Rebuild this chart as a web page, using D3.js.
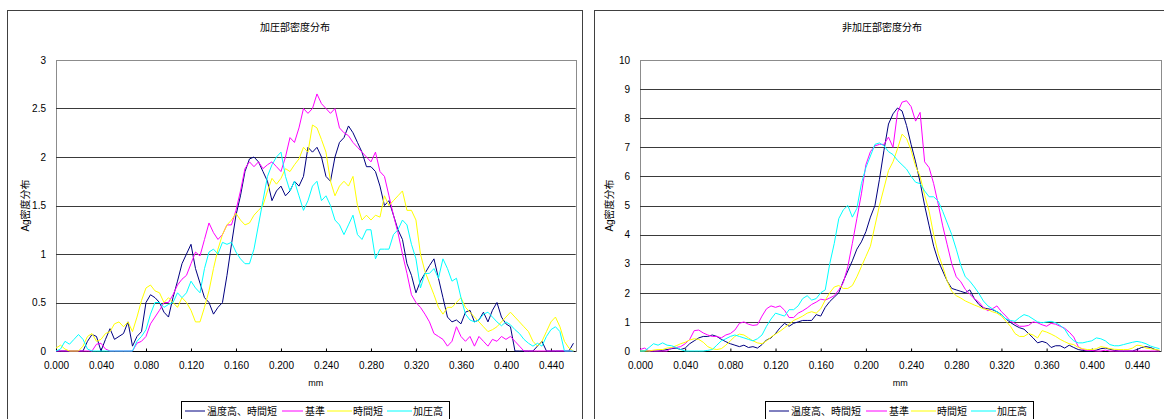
<!DOCTYPE html>
<html>
<head>
<meta charset="utf-8">
<script src="https://cdn.jsdelivr.net/npm/d3@7"></script>
<style>
body { margin: 0; background: #fff; }
svg { display: block; }
text { font-family: "Liberation Sans", "Noto Sans CJK JP", sans-serif; fill: #000; }
</style>
</head>
<body>
<svg></svg>
<script>
var width = 1164, height = 419;

var seriesNames = ["温度高、時間短", "基準", "時間短", "加圧高"];
var colors = ["#000080", "#ff00ff", "#ffff00", "#00ffff"];
var xTicks = [0, 0.04, 0.08, 0.12, 0.16, 0.2, 0.24, 0.28, 0.32, 0.36, 0.4, 0.44];
// sample positions (mm), one reading every 0.004 mm
var mm = d3.range(116).map(function(i) { return i * 0.004; });

// 加圧部
var pressNavy = [
  0,0,0,0,0,0,0,0.1,0.17,0.15,
  0,0.12,0.23,0.12,0.15,0.18,0.3,0.05,0.15,0.2,
  0.5,0.58,0.55,0.5,0.4,0.35,0.55,0.72,0.9,1.0,
  1.1,0.85,0.7,0.55,0.5,0.38,0.45,0.5,0.78,1.1,
  1.4,1.6,1.85,1.98,2.0,1.95,1.85,1.75,1.55,1.65,
  1.7,1.6,1.65,1.75,1.7,1.8,2.1,2.05,2.1,2.0,
  1.8,1.75,2.0,2.15,2.2,2.32,2.25,2.15,2.05,1.9,
  1.9,1.85,1.7,1.5,1.55,1.4,1.25,1.15,0.9,0.78,
  0.6,0.72,0.8,0.88,0.95,0.75,0.55,0.35,0.3,0.32,
  0.28,0.4,0.42,0.3,0.32,0.4,0.3,0.42,0.5,0.35,
  0.28,0.25,0,0,0,0,0,0.05,0.1,0,
  0,0,0,0,0,0.08
];
var pressPink = [
  0,0,0,0,0,0,0,0,0,0.07,
  0.08,0.02,0,0,0,0,0,0,0.08,0.1,
  0.15,0.28,0.35,0.42,0.5,0.5,0.58,0.68,0.74,0.78,
  0.9,1.02,0.98,1.15,1.32,1.22,1.15,1.2,1.3,1.3,
  1.45,1.65,1.88,1.95,1.9,1.95,1.88,1.92,1.95,1.9,
  1.85,2.0,2.2,2.15,2.3,2.5,2.45,2.5,2.65,2.55,
  2.5,2.45,2.5,2.3,2.25,2.22,2.15,2.1,2.05,2.0,
  1.95,2.05,1.85,1.8,1.6,1.4,1.22,1.0,0.8,0.58,
  0.5,0.45,0.38,0.3,0.18,0.15,0.12,0.05,0.1,0.25,
  0.15,0.1,0.15,0.05,0.15,0.1,0.05,0.12,0.1,0.15,
  0.12,0.15,0.1,0.05,0,0,0,0,0,0,
  0,0,0,0,0,0
];
var pressYellow = [
  0.03,0.06,0.02,0,0,0,0.05,0.15,0.18,0.1,
  0.12,0.18,0.2,0.28,0.3,0.25,0.3,0.2,0.35,0.52,
  0.65,0.68,0.62,0.6,0.5,0.55,0.5,0.45,0.55,0.5,
  0.42,0.3,0.3,0.45,0.62,0.85,1.05,1.2,1.3,1.35,
  1.42,1.35,1.3,1.32,1.4,1.45,1.5,1.65,1.78,1.72,
  1.78,1.88,1.85,1.92,1.98,2.1,2.05,2.33,2.3,2.18,
  2.05,1.75,1.6,1.7,1.75,1.7,1.8,1.5,1.35,1.4,
  1.35,1.4,1.38,1.6,1.5,1.55,1.6,1.65,1.45,1.45,
  1.35,1.0,0.82,0.7,0.58,0.45,0.38,0.45,0.45,0.5,
  0.55,0.45,0.4,0.35,0.3,0.25,0.2,0.22,0.25,0.3,
  0.35,0.4,0.35,0.3,0.25,0.2,0.1,0.05,0.1,0.2,
  0.3,0.35,0.25,0.1,0.03,0
];
var pressCyan = [
  0,0.02,0.1,0.07,0.12,0.17,0.12,0.02,0,0,
  0,0,0,0,0,0,0,0,0.1,0.15,
  0.22,0.38,0.5,0.5,0.45,0.48,0.5,0.6,0.55,0.6,
  0.72,0.65,0.6,0.85,1.02,1.05,1.0,1.12,1.1,1.12,
  1.02,0.95,0.9,0.9,1.05,1.3,1.55,1.8,1.92,2.0,
  2.05,1.8,1.65,1.75,1.6,1.45,1.55,1.7,1.75,1.55,
  1.6,1.5,1.35,1.3,1.2,1.3,1.4,1.2,1.15,1.25,
  1.25,0.95,1.05,1.05,1.05,1.2,1.25,1.35,1.3,1.1,
  0.95,0.65,0.8,0.8,0.85,0.75,0.95,0.85,0.72,0.75,
  0.55,0.38,0.32,0.3,0.32,0.38,0.4,0.35,0.3,0.26,
  0.3,0.27,0.22,0.18,0.12,0.08,0.05,0.08,0.05,0.15,
  0.22,0.25,0.2,0,0,0
];

// 非加圧部
var freeNavy = [
  0,0,0,0,0,0.02,0.05,0.08,0.1,0.05,
  0.1,0.25,0.35,0.45,0.5,0.5,0.55,0.5,0.4,0.32,
  0.25,0.2,0.15,0.2,0.12,0.15,0.1,0.22,0.38,0.45,
  0.6,0.8,0.95,0.85,0.95,1.0,1.05,1.05,1.05,1.25,
  1.2,1.5,1.7,1.85,2.0,2.4,2.75,3.1,3.5,3.75,
  4.1,4.6,5.0,5.9,6.9,7.8,8.15,8.35,8.25,7.75,
  7.1,6.5,5.8,5.0,4.3,3.6,3.1,2.75,2.4,2.15,
  2.1,2.05,2.0,2.1,1.8,1.6,1.48,1.45,1.42,1.35,
  1.25,1.1,0.98,0.88,0.8,0.75,0.6,0.45,0.28,0.33,
  0.28,0.12,0.18,0.18,0.1,0.2,0.12,0.05,0.02,0,
  0,0.03,0.08,0.1,0.06,0.02,0,0,0,0,
  0.05,0.12,0.15,0.12,0.05,0
];
var freePink = [
  0.05,0.1,0,0,0,0,0,0.1,0.12,0.15,
  0.25,0.4,0.7,0.72,0.62,0.55,0.5,0.5,0.45,0.55,
  0.6,0.72,0.95,1.0,0.92,0.88,0.9,1.2,1.45,1.55,
  1.5,1.55,1.4,1.15,1.15,1.3,1.38,1.48,1.6,1.68,
  1.78,1.75,1.82,1.9,2.1,2.35,2.9,3.7,4.55,5.4,
  6.4,6.85,7.05,7.1,7.1,7.35,7.0,8.2,8.55,8.6,
  8.4,7.9,8.2,6.5,6.3,5.75,5.05,4.3,3.65,3.0,
  2.55,2.38,2.12,1.95,1.8,1.68,1.5,1.38,1.45,1.55,
  1.35,1.2,1.02,0.95,0.85,0.85,0.88,1.0,0.97,0.9,
  0.85,0.95,0.92,0.85,0.78,0.65,0.48,0.15,0.05,0.02,
  0.02,0,0,0.03,0,0,0,0,0,0,
  0,0,0,0,0,0
];
var freeYellow = [
  0,0,0,0.03,0.05,0.05,0.1,0.12,0.18,0.25,
  0.3,0.38,0.42,0.4,0.3,0.15,0.08,0.05,0.08,0.2,
  0.35,0.5,0.58,0.55,0.45,0.35,0.28,0.25,0.35,0.48,
  0.58,0.68,0.8,0.92,1.05,1.12,1.2,1.3,1.35,1.3,
  1.45,1.75,2.0,2.2,2.25,2.15,2.15,2.25,2.55,2.9,
  3.25,3.6,4.3,5.0,5.6,6.2,6.5,6.95,7.45,7.3,
  6.9,6.35,6.0,5.35,4.8,4.0,3.35,2.9,2.4,2.05,
  1.9,1.82,1.72,1.65,1.58,1.52,1.45,1.42,1.35,1.3,
  1.2,1.02,0.85,0.6,0.5,0.5,0.6,0.55,0.45,0.7,
  0.65,0.58,0.5,0.4,0.32,0.25,0.22,0.12,0.08,0.05,
  0.05,0.08,0.15,0.12,0.08,0.06,0.05,0.05,0.05,0.1,
  0.2,0.18,0.1,0.08,0.05,0.03
];
var freeCyan = [
  0,0,0.12,0.25,0.2,0.28,0.2,0.18,0.12,0.05,
  0,0,0,0,0,0.02,0.05,0.2,0.35,0.42,
  0.5,0.55,0.5,0.45,0.4,0.35,0.42,0.55,0.85,1.1,
  1.3,1.25,1.2,1.42,1.42,1.55,1.8,1.9,1.75,1.8,
  2.0,2.1,3.0,3.7,4.55,4.85,5.0,4.6,4.9,5.75,
  6.3,6.7,7.1,7.15,7.05,6.85,6.75,6.55,6.4,6.25,
  6.0,5.8,5.75,5.5,5.3,5.3,5.15,4.8,4.4,4.0,
  3.5,2.95,2.55,2.4,2.2,1.98,1.72,1.55,1.45,1.35,
  1.25,1.1,1.05,1.02,1.15,1.25,1.2,1.1,1.0,0.97,
  1.0,1.02,0.97,0.88,0.75,0.5,0.35,0.28,0.28,0.32,
  0.35,0.45,0.42,0.35,0.22,0.18,0.18,0.22,0.26,0.3,
  0.33,0.3,0.25,0.17,0.12,0.08
];

var pressTicks = [0, 0.5, 1, 1.5, 2, 2.5, 3];
var freeTicks = [0, 1, 2, 3, 4, 5, 6, 7, 8, 9, 10];

var charts = [
  { title: "加圧部密度分布", frame: [7.5, 582.5], plot: [56, 575.7], xMax: 0.462,
    yTicks: pressTicks, series: [pressNavy, pressPink, pressYellow, pressCyan] },
  { title: "非加圧部密度分布", frame: [594.5, 1169.5], plot: [640, 1160.7], xMax: 0.461,
    yTicks: freeTicks, series: [freeNavy, freePink, freeYellow, freeCyan] }
];

// legend item layout: line start, line end, text start (relative to legend box)
var legendLayout = [[3.5, 23.5, 25.5], [100.5, 121.5, 123.5], [145.5, 170.5, 171.5], [205.5, 230.5, 231.5]];

var svg = d3.select("svg").attr("width", width).attr("height", height);
var plotTop = 60, plotBottom = 351;

charts.forEach(function(c) {
  var g = svg.append("g");

  g.append("rect")
    .attr("x", c.frame[0]).attr("y", 10.5)
    .attr("width", c.frame[1] - c.frame[0]).attr("height", 430)
    .attr("fill", "#fff").attr("stroke", "#404040");

  var x = d3.scaleLinear().domain([0, c.xMax]).range(c.plot);
  var y = d3.scaleLinear().domain([0, d3.max(c.yTicks)]).range([plotBottom, plotTop]);

  // plot area border
  g.append("rect")
    .attr("x", Math.round(c.plot[0]) + 0.5).attr("y", plotTop + 0.5)
    .attr("width", Math.round(c.plot[1] - c.plot[0])).attr("height", plotBottom - plotTop)
    .attr("fill", "none").attr("stroke", "#8c8c8c");

  // gridlines
  g.append("g").selectAll("line")
    .data(c.yTicks.filter(function(t) { return t > 0 && t < d3.max(c.yTicks); }))
    .enter().append("line")
    .attr("x1", c.plot[0]).attr("x2", c.plot[1])
    .attr("y1", function(d) { return Math.round(y(d)) + 0.5; })
    .attr("y2", function(d) { return Math.round(y(d)) + 0.5; })
    .attr("stroke", "#3a3a3a");

  // y axis
  var yAxis = g.append("g")
    .attr("transform", "translate(" + c.plot[0] + ",0)")
    .call(d3.axisLeft(y).tickValues(c.yTicks).tickFormat(d3.format("~g")).tickSize(0).tickPadding(10));
  yAxis.select(".domain").remove();
  yAxis.selectAll("text").attr("font-size", 10).style("font-family", "Liberation Sans, sans-serif");

  // x axis
  var xAxis = g.append("g")
    .attr("transform", "translate(0," + (plotBottom + 0.5) + ")")
    .call(d3.axisBottom(x).tickValues(xTicks).tickFormat(d3.format(".3f")).tickSize(-3).tickPadding(10));
  xAxis.select(".domain").attr("stroke", "#000").attr("d", "M" + c.plot[0] + ",0H" + c.plot[1]);
  xAxis.selectAll(".tick line").attr("stroke", "#000");
  xAxis.selectAll("text").attr("font-size", 10).style("font-family", "Liberation Sans, sans-serif");

  // series
  var line = d3.line()
    .x(function(d, i) { return x(mm[i]); })
    .y(function(d) { return y(d); });

  g.append("g").selectAll("path")
    .data(c.series)
    .enter().append("path")
    .attr("d", line)
    .attr("fill", "none")
    .attr("stroke", function(d, i) { return colors[i]; })
    .attr("stroke-width", 1);

  // titles
  var cx = (c.frame[0] + c.frame[1]) / 2;
  g.append("text")
    .attr("x", cx).attr("y", 27).attr("dy", "0.35em")
    .attr("text-anchor", "middle").attr("font-size", 10)
    .text(c.title);

  g.append("text")
    .attr("x", (c.plot[0] + c.plot[1]) / 2).attr("y", 383).attr("dy", "0.35em")
    .attr("text-anchor", "middle").attr("font-size", 9)
    .text("mm");

  g.append("text")
    .attr("transform", "translate(" + (c.plot[0] - 31) + "," + ((plotTop + plotBottom) / 2) + ") rotate(-90)")
    .attr("dy", "0.35em").attr("text-anchor", "middle").attr("font-size", 10)
    .text("Ag密度分布");

  // legend
  var lx = c.plot[0] + 125.5;
  var lg = g.append("g").attr("transform", "translate(" + lx + ",401.5)");
  lg.append("rect").attr("width", 268).attr("height", 18)
    .attr("fill", "#fff").attr("stroke", "#000");
  var items = lg.selectAll("g.item").data(seriesNames).enter().append("g").attr("class", "item");
  items.append("line")
    .attr("x1", function(d, i) { return legendLayout[i][0]; })
    .attr("x2", function(d, i) { return legendLayout[i][1]; })
    .attr("y1", 9.5).attr("y2", 9.5)
    .attr("stroke", function(d, i) { return colors[i]; });
  items.append("text")
    .attr("x", function(d, i) { return legendLayout[i][2]; })
    .attr("y", 9.5).attr("dy", "0.35em").attr("font-size", 10)
    .text(function(d) { return d; });
});
</script>
</body>
</html>
